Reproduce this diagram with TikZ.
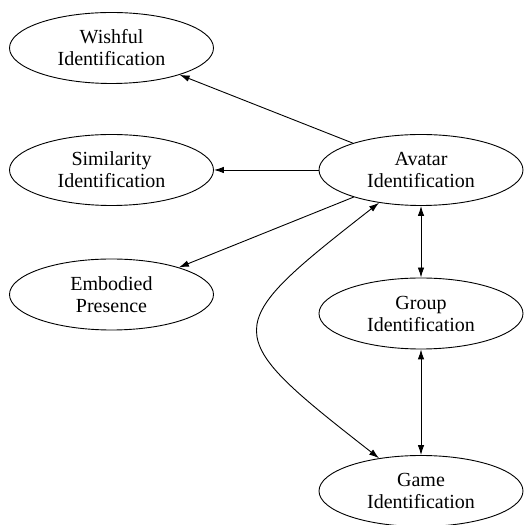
\documentclass[tikz,border=0pt]{standalone}
\usepackage{fontspec}
\setmainfont{Liberation Serif}
\usepackage{tikz}
\usetikzlibrary{arrows.meta,shapes}
\newcommand{\ellw}{204pt}
\newcommand{\ellh}{71pt}

\begin{document}
\begin{tikzpicture}[x=1pt,y=1pt]
            \useasboundingbox (0,0) rectangle (532,524);
            \tikzset{concept/.style = {draw, ellipse, line width=0.9pt, minimum width=\ellw, minimum height=\ellh,
                    inner sep=0pt, align=center, font=\fontsize{20}{22}\selectfont},
                link/.style = {line width=0.9pt, >={Latex[length=10pt,width=6.5pt]}}}
                \node[concept] (wish)   at (111.5,476) {Wishful\\Identification};
                \node[concept] (sim)    at (111.5,354) {Similarity\\Identification};
                \node[concept] (emb)    at (111.5,229.5) {Embodied\\Presence};
                \node[concept] (avatar) at (421,354) {Avatar\\Identification};
                \node[concept] (group)  at (421,210.5) {Group\\Identification};
                \node[concept] (game)   at (421,33) {Game\\Identification};
                \draw[link,->] (avatar) -- (wish);
                \draw[link,->] (avatar) -- (sim);
                \draw[link,->] (avatar) -- (emb);
                \draw[link,<->] (avatar) -- (group);
                \draw[link,<->] (group) -- (game);
                \draw[link,<->] (avatar) to[out=218,in=142,looseness=2.05] (game);
        \end{tikzpicture}
\end{document}
